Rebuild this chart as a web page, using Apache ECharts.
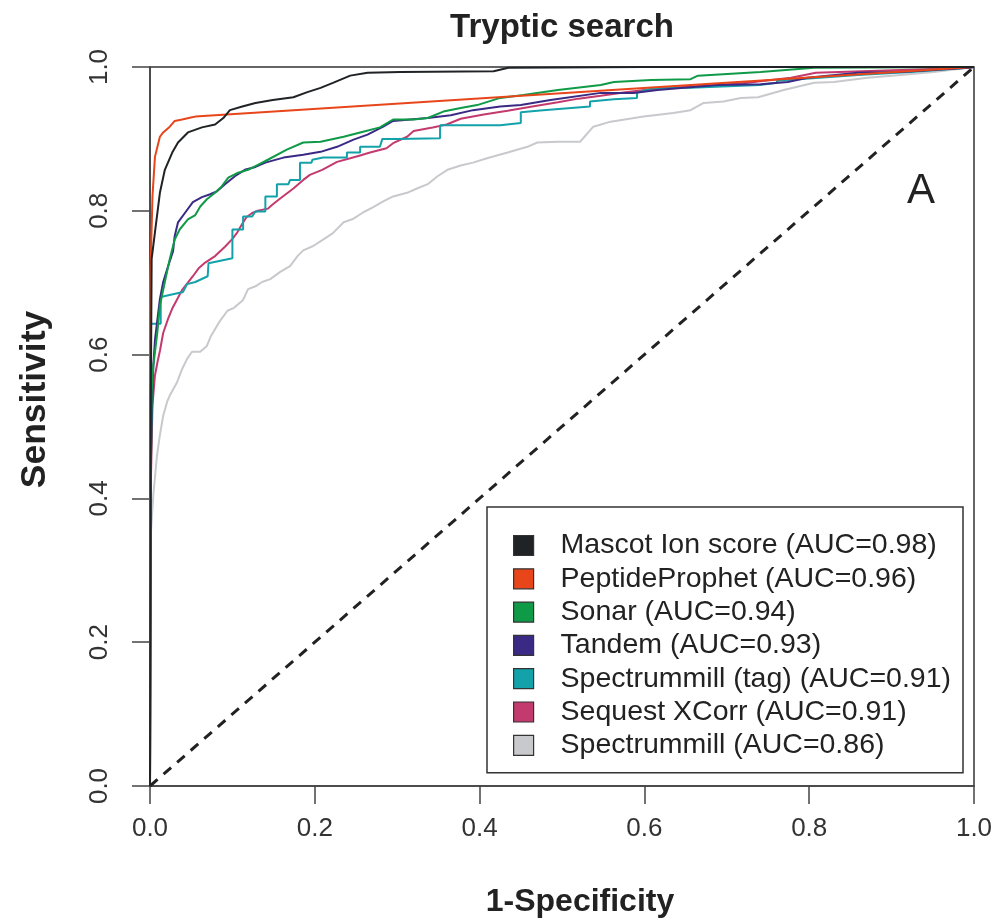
<!DOCTYPE html>
<html>
<head>
<meta charset="utf-8">
<script src="https://cdn.jsdelivr.net/npm/echarts@6.0.0/dist/echarts.min.js"></script>
<style>
  html, body { margin: 0; padding: 0; background: #fff; }
  #chart { width: 997px; height: 923px; }
</style>
</head>
<body>
<div id="chart"></div>
<script>
// ROC curves, each as [1-specificity, sensitivity] pairs
const mascotRoc = [
  [0,0],[0.001,0.54],[0.002,0.733],[0.006,0.77],[0.012,0.825],[0.018,0.857],[0.027,0.881],
  [0.034,0.895],[0.046,0.909],[0.063,0.916],[0.079,0.92],[0.089,0.929],[0.097,0.94],
  [0.112,0.945],[0.128,0.95],[0.149,0.954],[0.174,0.958],[0.191,0.965],[0.207,0.971],
  [0.222,0.978],[0.243,0.988],[0.264,0.992],[0.304,0.993],[0.417,0.994],[0.435,0.999],
  [0.6,1],[1,1]
];
const peptideProphetRoc = [
  [0,0],[0,0.70],[0.001,0.733],[0.003,0.82],[0.006,0.875],[0.012,0.903],[0.016,0.909],
  [0.024,0.917],[0.03,0.925],[0.039,0.927],[0.051,0.93],[0.055,0.931],[1,1]
];
const sonarRoc = [
  [0,0],[0.001,0.42],[0.002,0.548],[0.004,0.584],[0.009,0.632],[0.012,0.668],[0.018,0.701],
  [0.024,0.733],[0.03,0.76],[0.036,0.774],[0.046,0.788],[0.055,0.794],[0.061,0.806],
  [0.069,0.816],[0.079,0.825],[0.087,0.834],[0.095,0.846],[0.107,0.853],[0.119,0.857],
  [0.131,0.864],[0.143,0.871],[0.166,0.885],[0.186,0.895],[0.207,0.896],[0.235,0.903],
  [0.255,0.909],[0.279,0.916],[0.295,0.927],[0.32,0.927],[0.337,0.929],[0.356,0.938],
  [0.377,0.943],[0.397,0.947],[0.425,0.957],[0.453,0.961],[0.495,0.968],[0.547,0.975],
  [0.563,0.979],[0.608,0.982],[0.656,0.983],[0.665,0.988],[0.741,0.993],[0.806,0.999],[1,1]
];
const tandemRoc = [
  [0,0],[0.001,0.45],[0.003,0.55],[0.004,0.584],[0.006,0.62],[0.009,0.649],[0.012,0.677],
  [0.016,0.701],[0.022,0.723],[0.028,0.744],[0.03,0.765],[0.034,0.784],[0.043,0.798],
  [0.052,0.812],[0.063,0.819],[0.073,0.823],[0.081,0.827],[0.091,0.837],[0.103,0.848],
  [0.115,0.857],[0.128,0.861],[0.14,0.867],[0.162,0.874],[0.186,0.878],[0.207,0.882],
  [0.227,0.889],[0.247,0.899],[0.264,0.906],[0.283,0.917],[0.295,0.925],[0.316,0.927],
  [0.337,0.929],[0.365,0.933],[0.392,0.94],[0.425,0.945],[0.45,0.947],[0.486,0.954],
  [0.547,0.964],[0.587,0.964],[0.616,0.968],[0.648,0.971],[0.689,0.975],[0.741,0.976],
  [0.774,0.979],[0.798,0.985],[0.859,0.992],[0.911,0.993],[0.993,0.999],[1,1]
];
const spectrummillTagRoc = [
  [0,0],[0,0.643],[0.013,0.643],[0.013,0.68],[0.04,0.687],[0.045,0.698],[0.055,0.701],
  [0.07,0.709],[0.071,0.727],[0.1,0.734],[0.1,0.774],[0.113,0.774],[0.113,0.792],
  [0.124,0.792],[0.128,0.799],[0.14,0.799],[0.14,0.82],[0.154,0.82],[0.154,0.837],
  [0.168,0.837],[0.17,0.843],[0.182,0.843],[0.182,0.867],[0.196,0.867],[0.197,0.871],
  [0.21,0.874],[0.239,0.874],[0.239,0.881],[0.255,0.881],[0.255,0.889],[0.279,0.889],
  [0.282,0.9],[0.3,0.9],[0.352,0.901],[0.352,0.919],[0.425,0.919],[0.45,0.922],
  [0.45,0.937],[0.477,0.94],[0.534,0.945],[0.534,0.952],[0.563,0.955],[0.591,0.957],
  [0.591,0.964],[0.608,0.97],[0.656,0.971],[0.74,0.975],[0.761,0.978],[0.761,0.981],
  [0.859,0.989],[0.923,0.993],[0.993,0.999],[1,1]
];
const sequestRoc = [
  [0,0],[0.001,0.42],[0.003,0.53],[0.006,0.571],[0.009,0.589],[0.012,0.605],[0.016,0.63],
  [0.022,0.65],[0.027,0.664],[0.033,0.677],[0.039,0.69],[0.046,0.7],[0.052,0.709],
  [0.059,0.72],[0.067,0.728],[0.079,0.737],[0.091,0.75],[0.1,0.761],[0.106,0.77],
  [0.112,0.782],[0.117,0.791],[0.124,0.797],[0.131,0.8],[0.143,0.803],[0.148,0.808],
  [0.158,0.817],[0.174,0.831],[0.186,0.843],[0.194,0.85],[0.209,0.857],[0.227,0.868],
  [0.243,0.873],[0.255,0.877],[0.267,0.881],[0.287,0.887],[0.295,0.894],[0.312,0.903],
  [0.32,0.911],[0.343,0.916],[0.36,0.92],[0.377,0.928],[0.405,0.934],[0.434,0.939],
  [0.464,0.945],[0.495,0.951],[0.52,0.956],[0.547,0.96],[0.577,0.965],[0.608,0.969],
  [0.656,0.973],[0.717,0.977],[0.778,0.985],[0.808,0.992],[0.911,0.996],[0.993,0.999],[1,1]
];
const spectrummillRoc = [
  [0,0],[0.001,0.35],[0.004,0.404],[0.0085,0.46],[0.012,0.488],[0.016,0.515],[0.021,0.535],
  [0.024,0.543],[0.033,0.562],[0.039,0.58],[0.045,0.594],[0.051,0.604],[0.061,0.604],
  [0.069,0.612],[0.074,0.626],[0.085,0.647],[0.094,0.661],[0.102,0.665],[0.113,0.676],
  [0.119,0.691],[0.128,0.695],[0.136,0.701],[0.146,0.705],[0.158,0.715],[0.17,0.723],
  [0.179,0.737],[0.186,0.745],[0.198,0.751],[0.21,0.76],[0.222,0.769],[0.235,0.784],
  [0.247,0.789],[0.259,0.798],[0.271,0.805],[0.283,0.813],[0.295,0.82],[0.312,0.825],
  [0.324,0.831],[0.337,0.837],[0.349,0.848],[0.361,0.857],[0.377,0.863],[0.392,0.867],
  [0.409,0.873],[0.434,0.881],[0.458,0.889],[0.47,0.895],[0.495,0.896],[0.522,0.896],
  [0.538,0.917],[0.559,0.924],[0.599,0.931],[0.635,0.936],[0.656,0.94],[0.672,0.95],
  [0.696,0.952],[0.717,0.957],[0.738,0.958],[0.769,0.968],[0.806,0.978],[0.83,0.979],
  [0.871,0.985],[0.911,0.989],[0.951,0.993],[0.993,0.999],[1,1]
];
const chanceLine = [[0,0],[1,1]];

const methodNames = [
  'Mascot Ion score (AUC=0.98)',
  'PeptideProphet (AUC=0.96)',
  'Sonar (AUC=0.94)',
  'Tandem (AUC=0.93)',
  'Spectrummill (tag) (AUC=0.91)',
  'Sequest XCorr (AUC=0.91)',
  'Spectrummill (AUC=0.86)'
];
const methodColors = ['#1f2325', '#e8461a', '#0f9a47', '#3a2a85', '#13a2aa', '#c33a6e', '#c8c9cd'];
const methodCurves = [mascotRoc, peptideProphetRoc, sonarRoc, tandemRoc, spectrummillTagRoc, sequestRoc, spectrummillRoc];

const font = "'Liberation Sans', Arial, sans-serif";

const chart = echarts.init(document.getElementById('chart'), null, { renderer: 'canvas' });

// drawn back to front: lightest curve first, Mascot on top
const curveSeries = methodNames.map((name, i) => ({
  name: name,
  type: 'line',
  data: methodCurves[i],
  symbol: 'none',
  smooth: false,
  z: 10 - i,
  itemStyle: { color: methodColors[i] },
  lineStyle: { color: methodColors[i], width: 2 },
  emphasis: { disabled: true }
})).reverse();

const option = {
  animation: false,
  backgroundColor: '#ffffff',
  title: {
    text: 'Tryptic search',
    left: 557,
    textAlign: 'center',
    top: 6,
    textStyle: { fontFamily: font, fontWeight: 'bold', fontSize: 33, color: '#222' }
  },
  grid: {
    left: 150, right: 23, top: 67, bottom: 134,
    show: true, borderColor: '#333', borderWidth: 1.5, backgroundColor: 'transparent'
  },
  xAxis: {
    type: 'value', min: 0, max: 1, interval: 0.2,
    name: '1-Specificity', nameLocation: 'middle', nameGap: 100,
    nameTextStyle: { fontFamily: font, fontWeight: 'bold', fontSize: 32, color: '#222',
      padding: [0, 0, 0, 36] },
    axisLine: { show: true, lineStyle: { color: '#444', width: 1.5 } },
    axisTick: { show: true, inside: false, length: 18, lineStyle: { color: '#444', width: 1.5 } },
    axisLabel: { margin: 30, fontFamily: font, fontSize: 26, color: '#333',
      formatter: v => v.toFixed(1) },
    splitLine: { show: false }
  },
  yAxis: {
    type: 'value', min: 0, max: 1, interval: 0.2,
    name: 'Sensitivity', nameLocation: 'middle', nameGap: 97, nameRotate: 90,
    nameTextStyle: { fontFamily: font, fontWeight: 'bold', fontSize: 35.5, color: '#222',
      padding: [0, 0, 0, 54] },
    axisLine: { show: true, lineStyle: { color: '#444', width: 1.5 } },
    axisTick: { show: true, inside: false, length: 18, lineStyle: { color: '#444', width: 1.5 } },
    axisLabel: { margin: 37, rotate: 90, fontFamily: font, fontSize: 26, color: '#333',
      formatter: v => v.toFixed(1) },
    splitLine: { show: false }
  },
  legend: {
    orient: 'vertical',
    left: 487, top: 507,
    padding: [24, 12, 13, 26],
    itemWidth: 20, itemHeight: 20, itemGap: 4.3,
    borderColor: '#333', borderWidth: 1.5, borderRadius: 0,
    backgroundColor: '#fff',
    selectedMode: false,
    data: methodNames.map((n, i) => ({
      name: n, icon: 'rect',
      itemStyle: { color: methodColors[i], borderColor: '#333', borderWidth: 1.2 }
    })),
    textStyle: { fontFamily: font, fontSize: 28.5, color: '#222', lineHeight: 28.5, padding: [0, 0, 0, 22] }
  },
  graphic: [{
    type: 'text',
    left: 907, top: 170,
    style: { text: 'A', fontFamily: font, fontSize: 42, fill: '#222' }
  }],
  series: [
    {
      name: 'chance',
      type: 'line',
      data: chanceLine,
      symbol: 'none',
      z: 1,
      lineStyle: { color: '#222', width: 3, type: [10, 8] },
      emphasis: { disabled: true }
    }
  ].concat(curveSeries)
};

chart.setOption(option);
</script>
</body>
</html>
